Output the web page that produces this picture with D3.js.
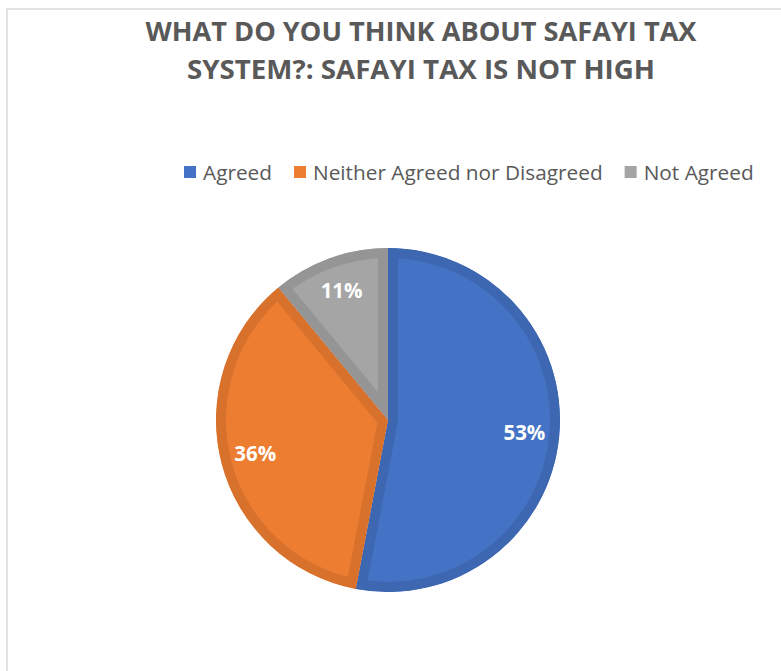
<!DOCTYPE html>
<html>
<head>
<meta charset="utf-8">
<script src="https://cdn.jsdelivr.net/npm/d3@7/dist/d3.min.js"></script>
<style>
  html, body { margin: 0; padding: 0; background: #ffffff; }
  svg { display: block; }
</style>
</head>
<body>
<svg id="chart" width="781" height="671"></svg>
<script>
// Survey answers: share of respondents per answer
const categories = ["Agreed", "Neither Agreed nor Disagreed", "Not Agreed"];
const shares = [53, 36, 11];
const fillColors = ["#4472C4", "#ED7D31", "#A5A5A5"];
const edgeColors = ["#3E67B1", "#D8712C", "#959595"];
const titleLines = ["WHAT DO YOU THINK ABOUT SAFAYI TAX", "SYSTEM?: SAFAYI TAX IS NOT HIGH"];

const svg = d3.select("#chart");
const font = "'Open Sans', 'Liberation Sans', sans-serif";

// chart area frame
svg.append("rect")
  .attr("x", 7).attr("y", 9)
  .attr("width", 800).attr("height", 700)
  .attr("fill", "#ffffff")
  .attr("stroke", "#d9d9d9").attr("stroke-width", 1.5);

// title, each line fitted to its width
const titleWidths = [551, 468];
const titleBase = [41, 79];
titleLines.forEach((line, i) => {
  svg.append("text")
    .attr("x", 421).attr("y", titleBase[i])
    .attr("text-anchor", "middle")
    .attr("font-family", font)
    .attr("font-weight", 700)
    .attr("font-size", 27)
    .attr("fill", "#595959")
    .attr("textLength", titleWidths[i])
    .attr("lengthAdjust", "spacingAndGlyphs")
    .text(line);
});

// legend
const legend = svg.append("g");
let lx = 184;
categories.forEach((c, i) => {
  legend.append("rect")
    .attr("x", lx).attr("y", 166)
    .attr("width", 12).attr("height", 12)
    .attr("fill", fillColors[i]);
  const t = legend.append("text")
    .attr("x", lx + 19).attr("y", 180)
    .attr("font-family", font)
    .attr("font-size", 20.8)
    .attr("fill", "#595959")
    .text(c);
  lx += 19 + t.node().getComputedTextLength() + 22;
});

// pie
const cx = 388, cy = 420, radius = 172, edge = 10;
const pie = d3.pie().sort(null).value(d => d)(shares);
const arc = d3.arc().innerRadius(0).outerRadius(radius);
const labelArc = d3.arc().innerRadius(137).outerRadius(137);

const g = svg.append("g").attr("transform", `translate(${cx},${cy})`);
const defs = svg.append("defs");

pie.forEach((p, i) => {
  const d = arc(p);
  defs.append("clipPath").attr("id", "slice" + i)
    .append("path").attr("d", d);
  g.append("path")
    .attr("d", d)
    .attr("fill", fillColors[i])
    .attr("stroke", edgeColors[i])
    .attr("stroke-width", edge * 2)
    .attr("stroke-linejoin", "miter")
    .attr("clip-path", `url(#slice${i})`);
});

pie.forEach((p, i) => {
  const [x, y] = labelArc.centroid(p);
  g.append("text")
    .attr("x", x).attr("y", y)
    .attr("dy", "0.36em")
    .attr("text-anchor", "middle")
    .attr("font-family", font)
    .attr("font-weight", 700)
    .attr("font-size", 20.5)
    .attr("fill", "#ffffff")
    .text(shares[i] + "%");
});
</script>
</body>
</html>
